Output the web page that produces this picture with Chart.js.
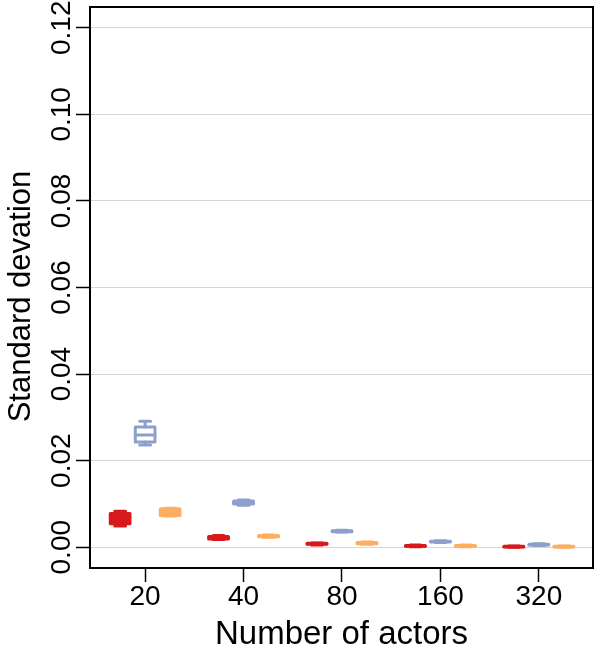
<!DOCTYPE html>
<html>
<head>
<meta charset="utf-8">
<title>Standard deviation by number of actors</title>
<script src="https://cdn.jsdelivr.net/npm/chart.js@4.4.1/dist/chart.umd.min.js"></script>
<style>
    html, body { margin: 0; padding: 0; background: #fff; }
    #wrap { width: 600px; height: 659px; }
</style>
</head>
<body>
<div id="wrap"><canvas id="sdChart"></canvas></div>
<script>
// Categories on the x axis and y tick values
const actorCounts = ['20', '40', '80', '160', '320'];
const yTicks = [0, 0.02, 0.04, 0.06, 0.08, 0.10, 0.12];

// Box stats per category: [min, q1, median, q3, max]
const redStats = [
    [0.0049, 0.0054, 0.0069, 0.0078, 0.0083],
    [0.0018, 0.0019, 0.0022, 0.0025, 0.0027],
    [0.0005, 0.0007, 0.0008, 0.0009, 0.0010],
    [0.0001, 0.0002, 0.0003, 0.0004, 0.0005],
    [0.0000, 0.00005, 0.0001, 0.0002, 0.0003]
];
const blueStats = [
    [0.0236, 0.0243, 0.0259, 0.0278, 0.0291],
    [0.0097, 0.0100, 0.0103, 0.0107, 0.0109],
    [0.0035, 0.0036, 0.0037, 0.0038, 0.0039],
    [0.0011, 0.0012, 0.0013, 0.0014, 0.0015],
    [0.0004, 0.0005, 0.0006, 0.0007, 0.0008]
];
const orangeStats = [
    [0.0072, 0.0073, 0.0081, 0.0089, 0.0090],
    [0.0023, 0.0024, 0.0025, 0.0027, 0.0028],
    [0.0007, 0.0008, 0.0009, 0.0011, 0.0012],
    [0.0001, 0.0002, 0.0003, 0.0004, 0.0005],
    [0.0000, 0.00005, 0.0001, 0.0002, 0.0003]
];

const FONT = "'Liberation Sans', Arial, Helvetica, sans-serif";
const BOX_W = 0.2;      // box width in x units
const STAPLE_W = 0.11;  // whisker cap width in x units

function makeSeries(label, color, stats, shift, solid) {
    return {
        label: label,
        borderColor: color,
        backgroundColor: color,
        pointRadius: 0,
        solidBox: solid,
        stats: stats,
        data: stats.map((s, i) => ({ x: i + 1 + shift, y: s[2] }))
    };
}

// Draws boxes, whiskers and medians through the chart scales
const boxplotPlugin = {
    id: 'boxplot',
    afterDatasetsDraw(chart) {
        const { ctx, scales: { x, y } } = chart;
        const unit = x.getPixelForValue(1) - x.getPixelForValue(0);
        const hb = unit * BOX_W / 2;
        const hs = unit * STAPLE_W / 2;
        ctx.save();
        ctx.lineWidth = 3;
        ctx.lineCap = 'round';
        ctx.lineJoin = 'round';
        chart.data.datasets.forEach(ds => {
            ctx.strokeStyle = ds.borderColor;
            ctx.fillStyle = ds.borderColor;
            ds.stats.forEach((s, i) => {
                const cx = x.getPixelForValue(ds.data[i].x);
                const [yMin, yQ1, yMed, yQ3, yMax] = s.map(v => y.getPixelForValue(v));
                ctx.beginPath();
                // whiskers
                ctx.moveTo(cx, yMax); ctx.lineTo(cx, yQ3);
                ctx.moveTo(cx, yQ1); ctx.lineTo(cx, yMin);
                // staples
                ctx.moveTo(cx - hs, yMax); ctx.lineTo(cx + hs, yMax);
                ctx.moveTo(cx - hs, yMin); ctx.lineTo(cx + hs, yMin);
                // median
                ctx.moveTo(cx - hb, yMed); ctx.lineTo(cx + hb, yMed);
                ctx.stroke();
                if (ds.solidBox) ctx.fillRect(cx - hb, yQ3, hb * 2, yQ1 - yQ3);
                ctx.strokeRect(cx - hb, yQ3, hb * 2, yQ1 - yQ3);
            });
        });
        ctx.restore();
    },
    afterDraw(chart) {
        const { ctx, chartArea: a, scales: { y } } = chart;
        ctx.save();
        // frame
        ctx.strokeStyle = '#000';
        ctx.lineWidth = 2;
        ctx.strokeRect(a.left, a.top, a.right - a.left, a.bottom - a.top);
        // rotated y tick labels
        ctx.fillStyle = '#000';
        ctx.font = '28px ' + FONT;
        ctx.textAlign = 'center';
        ctx.textBaseline = 'middle';
        yTicks.forEach(v => {
            ctx.save();
            ctx.translate(62, y.getPixelForValue(v));
            ctx.rotate(-Math.PI / 2);
            ctx.fillText(v.toFixed(2), 0, 0);
            ctx.restore();
        });
        // y axis title
        ctx.font = '31px ' + FONT;
        ctx.translate(21, (a.top + a.bottom) / 2 + 9);
        ctx.rotate(-Math.PI / 2);
        ctx.fillText('Standard devation', 0, 0);
        ctx.restore();
    }
};

new Chart(document.getElementById('sdChart'), {
    type: 'scatter',
    data: {
        datasets: [
            makeSeries('Red', '#D7191C', redStats, -0.254, true),
            makeSeries('Blue', '#8DA0CB', blueStats, 0, false),
            makeSeries('Orange', '#FDAE61', orangeStats, 0.254, true)
        ]
    },
    options: {
        responsive: true,
        maintainAspectRatio: false,
        animation: false,
        layout: { padding: { top: 7, right: 7, left: 0, bottom: 0 } },
        plugins: {
            legend: { display: false },
            tooltip: { enabled: false }
        },
        scales: {
            x: {
                type: 'linear',
                min: 0.44,
                max: 5.55,
                afterBuildTicks: scale => { scale.ticks = actorCounts.map((c, i) => ({ value: i + 1 })); },
                afterFit: scale => { scale.height = 91; },
                border: { display: false },
                grid: { drawOnChartArea: false, drawTicks: true, tickLength: 14, tickWidth: 1.5, tickColor: '#000' },
                ticks: {
                    autoSkip: false,
                    maxRotation: 0,
                    padding: -2,
                    color: '#000',
                    font: { family: FONT, size: 28 },
                    callback: v => actorCounts[v - 1]
                },
                title: {
                    display: true,
                    text: 'Number of actors',
                    color: '#000',
                    font: { family: FONT, size: 33 },
                    padding: { top: 0, bottom: 4 }
                }
            },
            y: {
                min: -0.0048,
                max: 0.1248,
                afterBuildTicks: scale => { scale.ticks = yTicks.map(v => ({ value: v })); },
                afterFit: scale => { scale.width = 90; },
                border: { display: false },
                grid: { color: '#d6d6d6', lineWidth: 1, tickLength: 14, tickWidth: 1.5, tickColor: '#000' },
                ticks: { display: false },
                title: { display: false }
            }
        }
    },
    plugins: [boxplotPlugin]
});
</script>
</body>
</html>
